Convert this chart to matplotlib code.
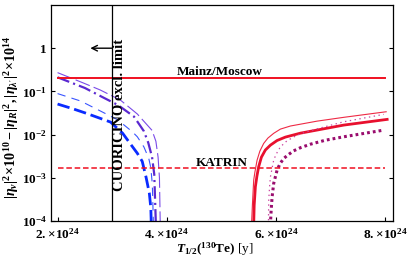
import numpy as np
import matplotlib
matplotlib.use("Agg")
import matplotlib.pyplot as plt

plt.rcParams['font.family'] = ['Liberation Serif', 'DejaVu Serif']
plt.rcParams['font.weight'] = 'bold'
plt.rcParams['mathtext.fontset'] = 'custom'
plt.rcParams['mathtext.rm'] = 'Liberation Serif:bold'
plt.rcParams['mathtext.bf'] = 'Liberation Serif:bold'
plt.rcParams['mathtext.it'] = 'Liberation Serif:italic:bold'
plt.rcParams['lines.scale_dashes'] = False

E24 = 1e24

# half-life in units of 1e24 y
# left group (blue / purple, falling)
T_blue_thick = [2.0, 2.27, 2.51, 2.97, 3.19, 3.35, 3.46, 3.55, 3.62, 3.68, 3.707, 3.716]
y_blue_thick = [0.051, 0.040, 0.0316, 0.0195, 0.0108, 0.0057, 0.0037, 0.0024, 0.00103, 0.00044, 0.0002, 0.00008]

T_blue_thin = [2.0, 2.42, 2.75, 3.10, 3.37, 3.46, 3.58, 3.67, 3.707, 3.735, 3.755]
y_blue_thin = [0.089, 0.060, 0.037, 0.022, 0.0116, 0.0089, 0.0052, 0.0028, 0.0017, 0.0007, 0.00008]

T_purp_dd = [2.0, 2.5, 2.82, 3.11, 3.40, 3.58, 3.66, 3.73, 3.77, 3.80]
y_purp_dd = [0.212, 0.12, 0.074, 0.048, 0.026, 0.012, 0.0065, 0.003, 0.0012, 0.00008]

T_purp_thin = [2.0, 2.47, 2.78, 3.15, 3.46, 3.73, 3.80, 3.84, 3.865, 3.88]
y_purp_thin = [0.272, 0.157, 0.108, 0.063, 0.030, 0.0125, 0.007, 0.003, 0.001, 0.00008]

# right group (red / magenta, rising)
T_red_thin = [5.55, 5.566, 5.59, 5.612, 5.652, 5.703, 5.773, 5.85, 5.956, 6.079, 6.262, 6.751, 7.238, 8.015]
y_red_thin = [0.00008, 0.00023, 0.00088, 0.00135, 0.00256, 0.00414, 0.00625, 0.0083, 0.0107, 0.0134, 0.0158, 0.0205, 0.0251, 0.0338]

T_red_thick = [5.59, 5.599, 5.621, 5.649, 5.681, 5.731, 5.804, 5.896, 6.018, 6.17, 6.445, 7.238, 8.033]
y_red_thick = [0.00008, 0.00023, 0.00062, 0.00109, 0.0018, 0.0030, 0.0044, 0.0057, 0.0073, 0.00875, 0.0108, 0.0166, 0.0225]

T_mag_dot = [5.86, 5.865, 5.88, 5.896, 5.956, 6.0, 6.079, 6.2, 6.385, 6.55, 6.78, 7.238, 7.971]
y_mag_dot = [0.00008, 0.0003, 0.0006, 0.00105, 0.00256, 0.0035, 0.0052, 0.0072, 0.0097, 0.0115, 0.0139, 0.0198, 0.0294]

T_pur_dot = [5.895, 5.91, 5.927, 5.956, 6.018, 6.07, 6.139, 6.22, 6.32, 6.45, 6.63, 6.9, 7.238, 7.971]
y_pur_dot = [0.00008, 0.00018, 0.00036, 0.00074, 0.0015, 0.0021, 0.0028, 0.0034, 0.0042, 0.0050, 0.006, 0.0074, 0.0089, 0.0127]

mainz = 0.2
katrin = 0.00165
cuoricino = 3.0
line_span = [2.0, 8.0]

xticks = [2, 4, 6, 8]
xticklabels = [r"$2.\!\times\!10^{24}$", r"$4.\!\times\!10^{24}$",
               r"$6.\!\times\!10^{24}$", r"$8.\!\times\!10^{24}$"]
yticks = [1e-4, 1e-3, 1e-2, 1e-1, 1]
yticklabels = [r"$10^{-4}$", r"$10^{-3}$", r"$10^{-2}$", r"$10^{-1}$", r"$1$"]

fig = plt.figure(figsize=(4.09, 2.64), dpi=100)
ax = fig.add_axes([51/409, 1 - 221/264, (393 - 51)/409, (221 - 5)/264])

def sc(T):
    return np.array(T) * E24

ax.plot(sc(T_blue_thick), y_blue_thick, color='#0a2bff', lw=2.0, dashes=(9, 3.5))
ax.plot(sc(T_blue_thin), y_blue_thin, color='#3a55ff', lw=0.8, dashes=(6, 4.5))
ax.plot(sc(T_purp_dd), y_purp_dd, color='#5a28d0', lw=1.6, dashes=(9, 3, 1.5, 3))
ax.plot(sc(T_purp_thin), y_purp_thin, color='#7a4ae8', lw=0.8, dashes=(11, 3))

ax.plot(sc(T_red_thin), y_red_thin, color='#ee2a45', lw=0.8)
ax.plot(sc(T_red_thick), y_red_thick, color='#e8102e', lw=2.0)
ax.plot(sc(T_mag_dot), y_mag_dot, color='#cc44a0', lw=0.9, dashes=(1, 2.5))
ax.plot(sc(T_pur_dot), y_pur_dot, color='#9a0d6e', lw=2.2, dashes=(2, 2.2))

ax.plot(sc(line_span), [mainz, mainz], color='#f01020', lw=1.4)
ax.plot(sc(line_span), [katrin, katrin], color='#f01020', lw=1.1, dashes=(4, 2))
ax.axvline(cuoricino * E24, color='black', lw=0.9)

ax.annotate("", xy=(2.6 * E24, 1), xytext=(cuoricino * E24, 1),
            arrowprops=dict(arrowstyle='->', lw=1.0, color='black',
                            shrinkA=0, shrinkB=0, mutation_scale=10))

ax.text(3.14 * E24, 0.028, "CUORICINO excl. limit", rotation=90,
        ha='center', va='center', fontsize=10.5, fontweight='bold')
ax.text(4.96 * E24, 0.245, "Mainz/Moscow", ha='center', va='baseline',
        fontsize=9.5, fontweight='bold')
ax.text(5.01 * E24, 0.0019, "KATRIN", ha='center', va='baseline',
        fontsize=9.5, fontweight='bold')

ax.set_yscale('log')
ax.set_xlim(1.88 * E24, 8.14 * E24)
ax.set_ylim(1e-4, 10)
ax.set_xticks(sc(xticks))
ax.set_xticklabels(xticklabels, fontsize=9.5)
ax.set_yticks(yticks)
ax.set_yticklabels(yticklabels, fontsize=9.5)
ax.minorticks_off()
ax.tick_params(direction='in', length=3, width=0.8, right=True, top=False, pad=3)
ax.tick_params(axis='x', pad=4.5)

ax.set_xlabel(r"$T_{1/2}(^{130}\mathrm{Te})$ [y]", fontsize=9.5)
ax.set_ylabel(r"$|\eta_\nu|^2\!\times\!10^{10}-|\eta_R|^2,|\eta_{\lambda'}|^2\!\times\!10^{14}$",
              fontsize=10.2)
ax.xaxis.set_label_coords(0.48, -0.09)
ax.yaxis.set_label_coords(-0.088, 0.48)

for s in ax.spines.values():
    s.set_linewidth(0.9)

fig.savefig("out.png", dpi=100)
